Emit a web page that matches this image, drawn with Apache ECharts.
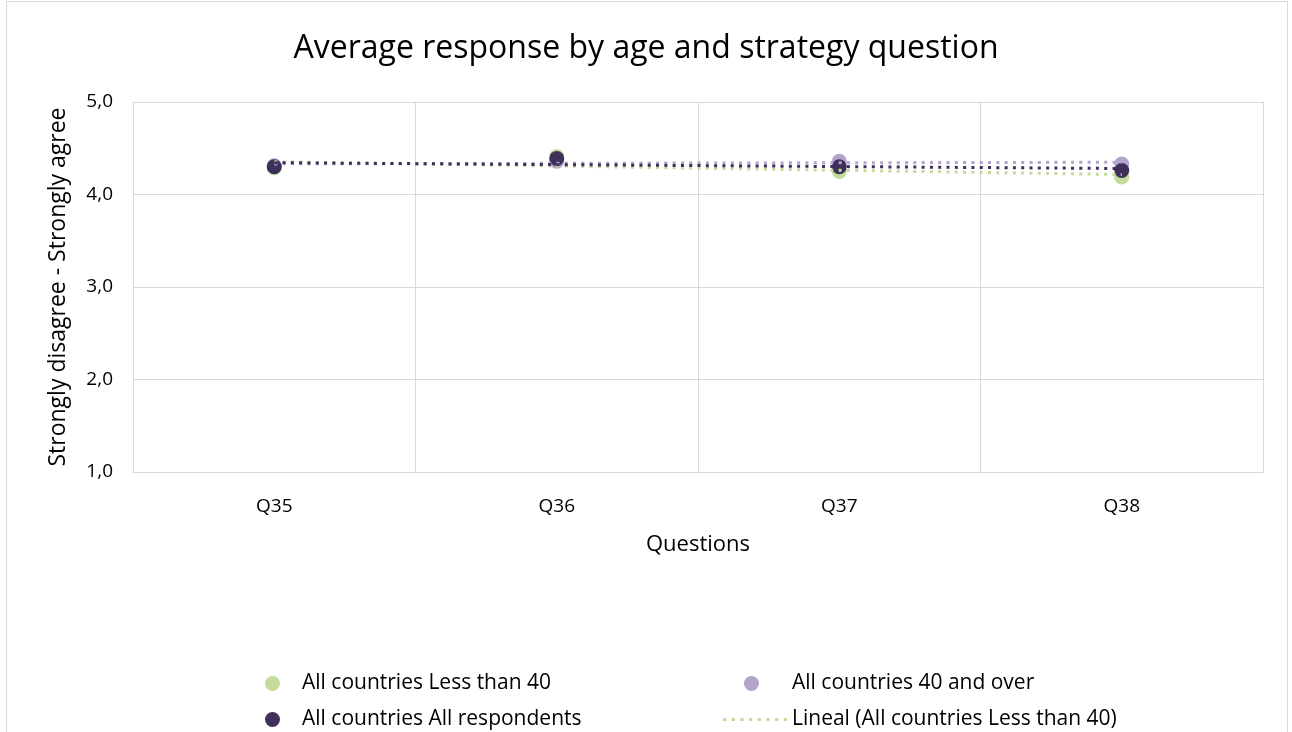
<!DOCTYPE html>
<html>
<head>
<meta charset="utf-8">
<script src="https://cdn.jsdelivr.net/npm/echarts@6/dist/echarts.min.js"></script>
<style>
  html, body { margin: 0; padding: 0; background: #fff; }
  #frame { position: absolute; left: 6px; top: 1px; width: 1282px; height: 740px; border: 1px solid #d9d9d9; box-sizing: border-box; }
  #chart { width: 1292px; height: 732px; }
</style>
</head>
<body>
<div id="frame"></div>
<div id="chart"></div>
<script>
// Questions on the category axis
const questions = ['Q35', 'Q36', 'Q37', 'Q38'];
// Average response per group (1 = strongly disagree, 5 = strongly agree)
const lessThan40 = [4.29, 4.41, 4.25, 4.19];
const fortyAndOver = [4.31, 4.36, 4.36, 4.33];
const allRespondents = [4.30, 4.39, 4.30, 4.26];
const yTicks = [1, 2, 3, 4, 5];

const names = {
  less: 'All countries Less than 40',
  over: 'All countries 40 and over',
  all: 'All countries All respondents',
  trendLess: 'Lineal (All countries Less than 40)',
  trendOver: 'Lineal (All countries 40 and over)',
  trendAll: 'Lineal (All countries All respondents)'
};
const colors = { less: '#c3dc9c', over: '#b3a3cd', all: '#3e2f5b' };

// Least-squares linear trend over question index 1..n
function linearTrend(values) {
  const n = values.length;
  const xs = values.map((_, i) => i + 1);
  const mx = xs.reduce((a, b) => a + b, 0) / n;
  const my = values.reduce((a, b) => a + b, 0) / n;
  let sxy = 0, sxx = 0;
  for (let i = 0; i < n; i++) { sxy += (xs[i] - mx) * (values[i] - my); sxx += (xs[i] - mx) ** 2; }
  const slope = sxy / sxx;
  return xs.map(x => +(my + slope * (x - mx)).toFixed(4));
}

// Dotted-line legend key: eight small squares across a 64x3 box
const dottedKey = 'path://' + Array.from({ length: 8 }, (_, i) => `M${i * 8 + 1},0h3v3h-3z`).join(' ');

const font = 'Open Sans';
const chart = echarts.init(document.getElementById('chart'), null, { renderer: 'canvas' });

function scatter(name, data, color, z) {
  return { name, type: 'scatter', data, symbol: 'circle', symbolSize: 15, z,
           itemStyle: { color, opacity: 1 } };
}
function trend(name, data, color, z) {
  return { name, type: 'line', data: linearTrend(data), symbol: 'none', z, silent: true,
           itemStyle: { color },
           lineStyle: { color, width: 3, type: [3, 5.3], cap: 'butt' } };
}

// One legend block per entry, laid out as a two-column table
function legendEntry(item, left, top, w, h, padLeft) {
  return {
    data: [item], left, top, orient: 'horizontal',
    itemWidth: w, itemHeight: h, selectedMode: false, symbolKeepAspect: false,
    textStyle: { fontFamily: font, fontSize: 21, color: '#000', padding: [0, 0, 0, padLeft] }
  };
}

chart.setOption({
  animation: false,
  textStyle: { fontFamily: font },
  title: {
    text: 'Average response by age and strategy question',
    left: 'center', top: 28,
    textStyle: { fontFamily: font, fontSize: 32, fontWeight: 'normal', color: '#000' }
  },
  grid: { left: 133, right: 29, top: 102, bottom: 260, containLabel: false },
  legend: [
    legendEntry({ name: names.less, icon: 'circle' }, 260, 668, 15, 15, 17),
    legendEntry({ name: names.all, icon: 'circle' }, 260, 704, 15, 15, 17),
    legendEntry({ name: names.over, icon: 'circle' }, 739, 668, 15, 15, 28),
    legendEntry({ name: names.trendLess, icon: dottedKey }, 718, 704, 64, 3, 0)
  ],
  xAxis: {
    type: 'category', data: questions, boundaryGap: true,
    name: 'Questions', nameLocation: 'middle', nameGap: 62,
    nameTextStyle: { fontFamily: font, fontSize: 22, color: '#000' },
    axisLine: { show: true, lineStyle: { color: '#d9d9d9', width: 1 } },
    axisTick: { show: false },
    axisLabel: { fontFamily: font, fontSize: 19, color: '#000', margin: 25 },
    splitLine: { show: true, lineStyle: { color: '#d9d9d9', width: 1 } }
  },
  yAxis: {
    type: 'value', min: yTicks[0], max: yTicks[yTicks.length - 1], interval: 1,
    name: 'Strongly disagree - Strongly agree', nameLocation: 'middle', nameGap: 63,
    nameTextStyle: { fontFamily: font, fontSize: 23, color: '#000' },
    axisLine: { show: false }, axisTick: { show: false },
    axisLabel: { fontFamily: font, fontSize: 19, color: '#000', margin: 20,
                 formatter: v => v.toFixed(1).replace('.', ',') },
    splitLine: { show: true, lineStyle: { color: '#d9d9d9', width: 1 } }
  },
  series: [
    scatter(names.less, lessThan40, colors.less, 2),
    scatter(names.over, fortyAndOver, colors.over, 3),
    scatter(names.all, allRespondents, colors.all, 4),
    trend(names.trendLess, lessThan40, colors.less, 5),
    trend(names.trendOver, fortyAndOver, colors.over, 6),
    trend(names.trendAll, allRespondents, colors.all, 7)
  ]
});
</script>
</body>
</html>
